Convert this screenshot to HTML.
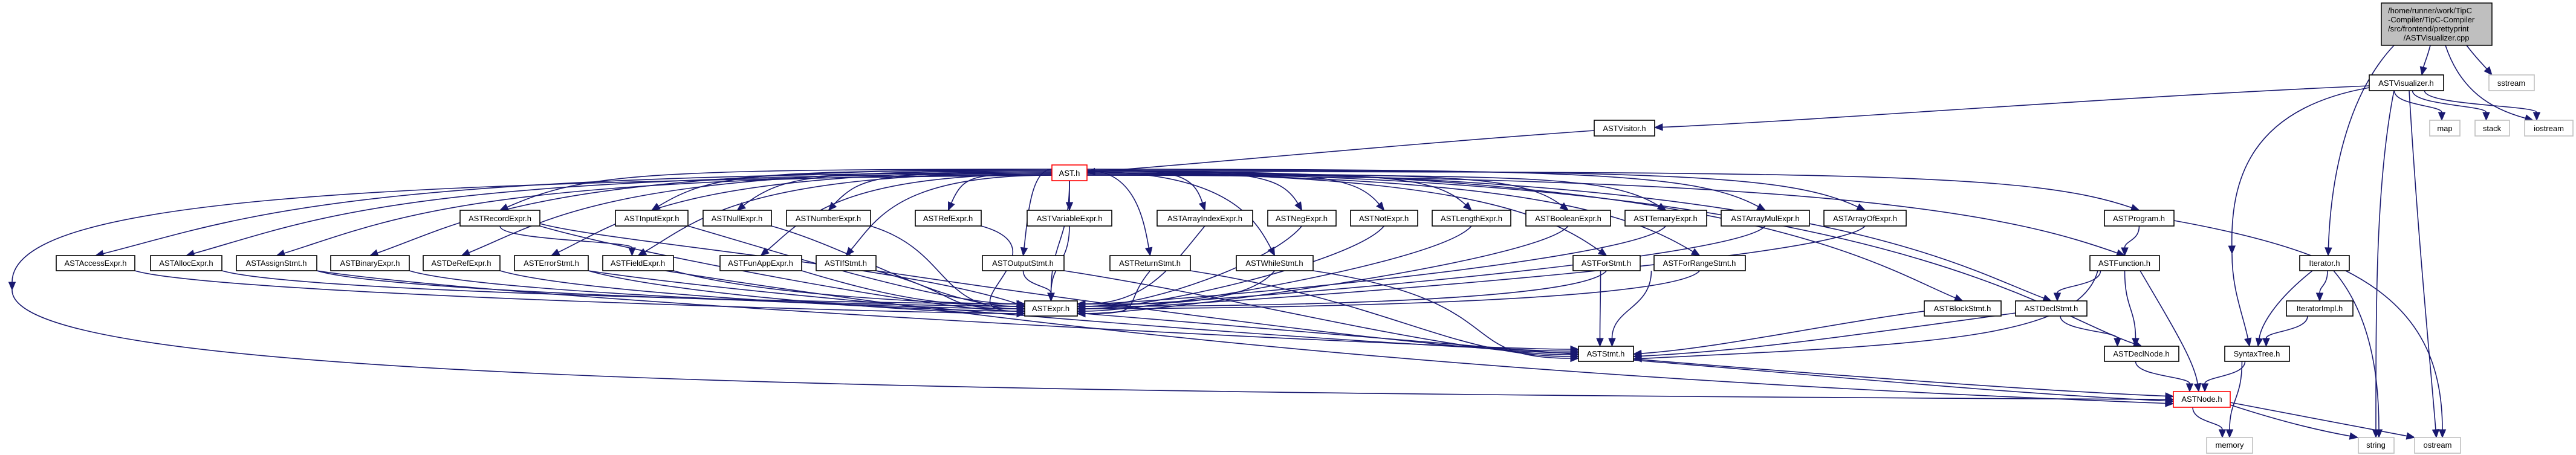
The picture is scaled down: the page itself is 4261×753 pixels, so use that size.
<!DOCTYPE html>
<html><head><meta charset="utf-8"><style>
html,body{margin:0;padding:0;background:#fff;}
svg{display:block;}
text{font-family:"Liberation Sans","DejaVu Sans",sans-serif;font-size:13px;fill:#000;}
</style></head><body>
<svg id="g" width="4261" height="753" viewBox="0 0 4261 753" xmlns="http://www.w3.org/2000/svg">
<rect width="4261" height="753" fill="#fff"/>
<g id="edges" fill="none" stroke="#191970" stroke-width="1.6"></g>
<g id="arrows" fill="#191970" stroke="#191970" stroke-width="1"></g>
<g id="nodes"></g>
<rect x="3939" y="5" width="183" height="70" fill="#bfbfbf" stroke="#000" stroke-width="1.5"/>
<g text-anchor="middle">
<text x="3950" y="22" text-anchor="start">/home/runner/work/TipC</text>
<text x="3950" y="37" text-anchor="start">-Compiler/TipC-Compiler</text>
<text x="3950" y="52" text-anchor="start">/src/frontend/prettyprint</text>
<text x="4030" y="67">/ASTVisualizer.cpp</text>
<text x="3980" y="142">ASTVisualizer.h</text>
<text x="4154" y="142">sstream</text>
<text x="2687" y="217">ASTVisitor.h</text>
<text x="4044" y="217">map</text>
<text x="4122" y="217">stack</text>
<text x="4216" y="217">iostream</text>
<text x="1769" y="291">AST.h</text>
<text x="827" y="366">ASTRecordExpr.h</text>
<text x="1078" y="366">ASTInputExpr.h</text>
<text x="1219" y="366">ASTNullExpr.h</text>
<text x="1370" y="366">ASTNumberExpr.h</text>
<text x="1568" y="366">ASTRefExpr.h</text>
<text x="1769" y="366">ASTVariableExpr.h</text>
<text x="1993" y="366">ASTArrayIndexExpr.h</text>
<text x="2153" y="366">ASTNegExpr.h</text>
<text x="2289" y="366">ASTNotExpr.h</text>
<text x="2434" y="366">ASTLengthExpr.h</text>
<text x="2594" y="366">ASTBooleanExpr.h</text>
<text x="2755" y="366">ASTTernaryExpr.h</text>
<text x="2920" y="366">ASTArrayMulExpr.h</text>
<text x="3085" y="366">ASTArrayOfExpr.h</text>
<text x="3538" y="366">ASTProgram.h</text>
<text x="158" y="440">ASTAccessExpr.h</text>
<text x="308" y="440">ASTAllocExpr.h</text>
<text x="457" y="440">ASTAssignStmt.h</text>
<text x="612" y="440">ASTBinaryExpr.h</text>
<text x="763" y="440">ASTDeRefExpr.h</text>
<text x="912" y="440">ASTErrorStmt.h</text>
<text x="1055" y="440">ASTFieldExpr.h</text>
<text x="1258" y="440">ASTFunAppExpr.h</text>
<text x="1399" y="440">ASTIfStmt.h</text>
<text x="1692" y="440">ASTOutputStmt.h</text>
<text x="1902" y="440">ASTReturnStmt.h</text>
<text x="2108" y="440">ASTWhileStmt.h</text>
<text x="2657" y="440">ASTForStmt.h</text>
<text x="2811" y="440">ASTForRangeStmt.h</text>
<text x="3514" y="440">ASTFunction.h</text>
<text x="3845" y="440">Iterator.h</text>
<text x="1738" y="515">ASTExpr.h</text>
<text x="3246" y="515">ASTBlockStmt.h</text>
<text x="3393" y="515">ASTDeclStmt.h</text>
<text x="3837" y="515">IteratorImpl.h</text>
<text x="2656" y="590">ASTStmt.h</text>
<text x="3542" y="590">ASTDeclNode.h</text>
<text x="3733" y="590">SyntaxTree.h</text>
<text x="3642" y="665">ASTNode.h</text>
<text x="3688" y="741">memory</text>
<text x="3930" y="741">string</text>
<text x="4032" y="741">ostream</text>
</g>
</svg>
<script>
var N={
"ASTVisualizer.h":[3919,4042,124,150],
"sstream":[4117,4192,124,150,1],
"ASTVisitor.h":[2637,2737,199,225],
"map":[4019,4069,199,225,1],"stack":[4094,4151,199,225,1],"iostream":[4176,4256,199,225,1],
"AST.h":[1740,1798,273,299,2],
"ASTRecordExpr.h":[761,893,348,374],"ASTInputExpr.h":[1018,1138,348,374],"ASTNullExpr.h":[1163,1276,348,374],
"ASTNumberExpr.h":[1301,1440,348,374],"ASTRefExpr.h":[1514,1623,348,374],"ASTVariableExpr.h":[1699,1839,348,374],
"ASTArrayIndexExpr.h":[1914,2072,348,374],"ASTNegExpr.h":[2097,2210,348,374],"ASTNotExpr.h":[2234,2345,348,374],
"ASTLengthExpr.h":[2369,2499,348,374],"ASTBooleanExpr.h":[2524,2664,348,374],"ASTTernaryExpr.h":[2688,2823,348,374],
"ASTArrayMulExpr.h":[2847,2993,348,374],"ASTArrayOfExpr.h":[3017,3153,348,374],"ASTProgram.h":[3481,3596,348,374],
"ASTAccessExpr.h":[93,223,423,448],"ASTAllocExpr.h":[249,367,423,448],"ASTAssignStmt.h":[391,524,423,448],
"ASTBinaryExpr.h":[547,677,423,448],"ASTDeRefExpr.h":[700,827,423,448],"ASTErrorStmt.h":[851,973,423,448],
"ASTFieldExpr.h":[997,1114,423,448],"ASTFunAppExpr.h":[1191,1326,423,448],"ASTIfStmt.h":[1350,1449,423,448],
"ASTOutputStmt.h":[1625,1760,423,448],"ASTReturnStmt.h":[1836,1969,423,448],"ASTWhileStmt.h":[2045,2172,423,448],
"ASTForStmt.h":[2602,2713,423,448],"ASTForRangeStmt.h":[2736,2887,423,448],"ASTFunction.h":[3457,3572,423,448],
"Iterator.h":[3804,3886,423,448],
"ASTExpr.h":[1695,1782,498,523],"ASTBlockStmt.h":[3183,3310,498,523],"ASTDeclStmt.h":[3334,3452,498,523],
"IteratorImpl.h":[3782,3892,498,523],
"ASTStmt.h":[2611,2702,573,598],"ASTDeclNode.h":[3481,3604,573,598],"SyntaxTree.h":[3680,3787,573,598],
"ASTNode.h":[3595,3689,648,674,2],
"memory":[3650,3726,724,750,1],"string":[3901,3960,724,750,1],"ostream":[3994,4070,724,750,1]
};
(function(){
var NS="http://www.w3.org/2000/svg";
var E=document.getElementById("edges"),A=document.getElementById("arrows"),G=document.getElementById("nodes");
for(var k in N){var n=N[k];
 var r=document.createElementNS(NS,"rect");
 r.setAttribute("x",n[0]);r.setAttribute("y",n[2]);r.setAttribute("width",n[1]-n[0]);r.setAttribute("height",n[3]-n[2]);
 r.setAttribute("fill","#fff");r.setAttribute("stroke",n[4]==1?"#bfbfbf":(n[4]==2?"#ff0000":"#000"));r.setAttribute("stroke-width","1.6");
 G.appendChild(r);}
function cx(n){return (N[n][0]+N[n][1])/2}
function P(sx,sy,c1x,c1y,c2x,c2y,ex,ey){
  var dx=ex-c2x,dy=ey-c2y,l=Math.sqrt(dx*dx+dy*dy)||1;dx/=l;dy/=l;
  var bx=ex-dx*13,by=ey-dy*13;
  var p=document.createElementNS(NS,"path");
  p.setAttribute("d","M"+sx+","+sy+" C"+c1x+","+c1y+" "+c2x+","+c2y+" "+bx+","+by);
  E.appendChild(p);
  var q=document.createElementNS(NS,"polygon");
  q.setAttribute("points",ex+","+ey+" "+(bx-dy*5.5)+","+(by+dx*5.5)+" "+(bx+dy*5.5)+","+(by-dx*5.5));
  A.appendChild(q);
}
function v(a,b,ox,oy){
  var sx=cx(a)+(ox||0),sy=N[a][3],ex=cx(b)+(oy||0),ey=N[b][2],h=(ey-sy)*0.5;
  P(sx,sy,sx,sy+h,ex,ey-h,ex,ey);
}
P(4020,75,4015,95,4010,105,4006,124);
P(4080,75,4095,95,4110,110,4122,124);
P(4045,75,4070,150,4120,180,4190,199);
P(3960,75,3880,160,3855,300,3851,423);
P(3919,142,3500,160,3000,200,2737,211);
v("ASTVisualizer.h","map",-20,-5);v("ASTVisualizer.h","stack",10,-10);v("ASTVisualizer.h","iostream",30,-20);
P(3919,145,3720,180,3690,300,3692,420);
P(3692,420,3692,480,3710,520,3721,573);
P(3960,150,3930,300,3930,500,3930,724);
P(3985,150,4000,400,4020,600,4030,724);
P(2637,216,2300,240,2000,270,1798,285);
var ast=["ASTRecordExpr.h","ASTInputExpr.h","ASTNullExpr.h","ASTNumberExpr.h","ASTRefExpr.h","ASTVariableExpr.h",
"ASTArrayIndexExpr.h","ASTNegExpr.h","ASTNotExpr.h","ASTLengthExpr.h","ASTBooleanExpr.h","ASTTernaryExpr.h",
"ASTArrayMulExpr.h","ASTArrayOfExpr.h","ASTProgram.h","ASTAccessExpr.h","ASTAllocExpr.h","ASTAssignStmt.h",
"ASTBinaryExpr.h","ASTDeRefExpr.h","ASTErrorStmt.h","ASTFieldExpr.h","ASTFunAppExpr.h","ASTIfStmt.h","ASTOutputStmt.h",
"ASTReturnStmt.h","ASTWhileStmt.h","ASTForStmt.h","ASTForRangeStmt.h","ASTFunction.h","ASTExpr.h","ASTBlockStmt.h",
"ASTDeclStmt.h","ASTDeclNode.h"];
ast.forEach(function(t,i){
  var ex=cx(t),ey=N[t][2],sx,sy;
  if(ex<1700){sx=1740;sy=280+(i%6)*2;P(sx,sy,sx-(sx-ex)*0.75,sy,ex+(1740-ex)*0.15,ey-60,ex,ey);}
  else if(ex>1840){sx=1798;sy=280+(i%6)*2;P(sx,sy,sx+(ex-sx)*0.75,sy,ex-(ex-1798)*0.1,ey-60,ex,ey);}
  else{sx=1769;sy=299;P(sx,sy,sx,sy+(ey-sy)*0.5,ex,ey-(ey-sy)*0.5,ex,ey);}
});
P(1740,290,600,300,20,330,20,480);
P(20,480,20,620,1200,650,3595,661);
var toE=["ASTInputExpr.h","ASTNullExpr.h","ASTNumberExpr.h","ASTRefExpr.h","ASTVariableExpr.h","ASTArrayIndexExpr.h",
"ASTNegExpr.h","ASTNotExpr.h","ASTLengthExpr.h","ASTBooleanExpr.h","ASTTernaryExpr.h","ASTArrayMulExpr.h","ASTArrayOfExpr.h",
"ASTRecordExpr.h","ASTAccessExpr.h","ASTAllocExpr.h","ASTAssignStmt.h","ASTBinaryExpr.h","ASTDeRefExpr.h","ASTErrorStmt.h",
"ASTFieldExpr.h","ASTFunAppExpr.h","ASTIfStmt.h","ASTOutputStmt.h","ASTReturnStmt.h","ASTWhileStmt.h","ASTForStmt.h","ASTForRangeStmt.h"];
toE.forEach(function(s,i){
  var sx=cx(s),sy=N[s][3];
  if(N[s][1]<1695){var ey=503+(i%5)*4;P(N[s][1],sy,sx+200,sy+40,1550,ey,1695,ey);}
  else if(N[s][0]>1782){var ey=503+(i%5)*4;P(sx,sy,sx-50,sy+60,1900,ey,1782,ey);}
  else{v(s,"ASTExpr.h");}
});
["ASTAssignStmt.h","ASTErrorStmt.h","ASTIfStmt.h","ASTOutputStmt.h","ASTReturnStmt.h","ASTWhileStmt.h"].forEach(function(s,i){
  var ey=578+i*3;P(N[s][1],N[s][3],cx(s)+400,500,2400,ey,2611,ey);
});
v("ASTForStmt.h","ASTStmt.h",-10,-10);v("ASTForRangeStmt.h","ASTStmt.h",-80,10);
P(3183,515,3000,540,2850,575,2702,586);
P(3334,518,3100,550,2900,580,2702,590);
P(3470,448,3440,560,3200,570,2702,594);
v("ASTRecordExpr.h","ASTFieldExpr.h",0,-10);
P(893,370,1000,400,1500,440,1695,507);
P(1782,518,2300,560,3200,640,3595,656);
P(2702,596,3000,620,3300,650,3595,664);
P(1100,448,1800,560,2600,630,3595,668);
v("ASTDeclStmt.h","ASTDeclNode.h",15,-40);
v("ASTFunction.h","ASTDeclStmt.h",-40,10);
v("ASTFunction.h","ASTDeclNode.h",0,-10);
P(3540,448,3600,550,3630,600,3637,648);
v("ASTProgram.h","ASTFunction.h",0,0);
P(3596,365,3900,420,4040,500,4040,724);
v("Iterator.h","IteratorImpl.h",5,0);
P(3825,448,3760,500,3740,540,3735,573);
P(3860,448,3930,530,3935,650,3935,724);
v("IteratorImpl.h","SyntaxTree.h",-20,15);
v("ASTDeclNode.h","ASTNode.h",-10,-20);
v("SyntaxTree.h","ASTNode.h",-20,5);
v("SyntaxTree.h","memory",-25,0);
v("ASTNode.h","memory",-15,-12);
P(3689,670,3780,700,3850,715,3900,724);
P(3689,666,3820,690,3920,710,3994,724);
})();
</script>
</body></html>
